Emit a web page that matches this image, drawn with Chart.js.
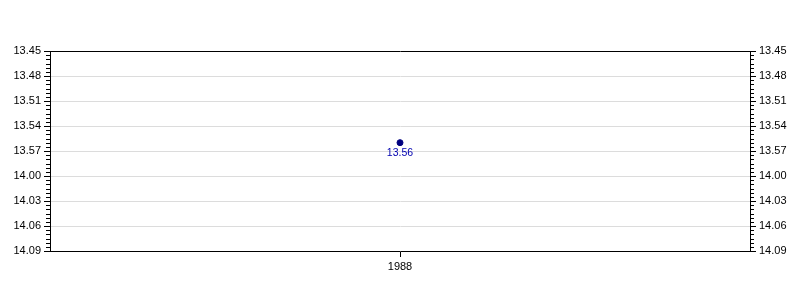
<!DOCTYPE html>
<html>
<head>
<meta charset="utf-8">
<script src="https://cdn.jsdelivr.net/npm/chart.js@4/dist/chart.umd.min.js"></script>
<style>
    html, body { margin: 0; padding: 0; background: #fff; }
    #wrap { width: 800px; height: 300px; }
</style>
</head>
<body>
<div id="wrap"><canvas id="timeChart"></canvas></div>
<script>
// Data (times as minutes.seconds)
const years = ['1988'];
const times = ['13.56'];
const yMinLabel = '13.45';
const yMaxLabel = '14.09';
const majorStep = 3;   // seconds between labelled ticks
const minorStep = 0.5; // seconds between small ticks

// "13.56" -> seconds
function toSeconds(t) {
    const parts = t.split('.');
    return parseInt(parts[0]) * 60 + parseInt(parts[1]);
}

// seconds -> "13.56"
function toLabel(v) {
    const m = Math.floor(v / 60);
    const s = Math.round(v - m * 60);
    return m + '.' + (s < 10 ? '0' + s : s);
}

const yMin = toSeconds(yMinLabel);
const yMax = toSeconds(yMaxLabel);

// Small ticks between the labelled ones
const minorTicks = {
    id: 'minorTicks',
    afterDraw(chart) {
        const c = chart.ctx;
        c.save();
        c.strokeStyle = '#000';
        c.lineWidth = 1;
        ['y', 'y2'].forEach(function (id) {
            const sc = chart.scales[id];
            for (let v = yMin; v <= yMax; v += minorStep) {
                if (v % majorStep === 0) continue;
                const py = Math.round(sc.getPixelForValue(v)) + 0.5;
                c.beginPath();
                if (id === 'y') {
                    c.moveTo(sc.right - 4, py);
                    c.lineTo(sc.right, py);
                } else {
                    c.moveTo(sc.left, py);
                    c.lineTo(sc.left + 4, py);
                }
                c.stroke();
            }
        });
        c.restore();
    }
};

// Value labels under the points
const pointLabels = {
    id: 'pointLabels',
    afterDatasetsDraw(chart) {
        const c = chart.ctx;
        const meta = chart.getDatasetMeta(0);
        c.save();
        c.fillStyle = '#0000b0';
        c.font = '10.5px "Liberation Sans", Arial, sans-serif';
        c.textAlign = 'center';
        c.textBaseline = 'top';
        meta.data.forEach(function (pt, i) {
            c.fillText(times[i], pt.x, pt.y + 5);
        });
        c.restore();
    }
};

function yAxis(position, onArea) {
    return {
        type: 'linear',
        position: position,
        min: yMin,
        max: yMax,
        reverse: true,
        afterFit: function (scale) { scale.width = 50; },
        ticks: {
            stepSize: majorStep,
            color: '#000',
            padding: 3,
            font: { size: 11, family: '"Liberation Sans", Arial, sans-serif' },
            callback: function (value) { return toLabel(value); }
        },
        grid: {
            drawOnChartArea: onArea,
            tickLength: 6,
            tickColor: '#000',
            color: function (ctx) {
                return ctx.tick && ctx.tick.value === yMin ? '#000' : '#dcdcdc';
            }
        },
        border: { color: '#000' }
    };
}

document.addEventListener('DOMContentLoaded', function () {
    const ctx = document.getElementById('timeChart');

    new Chart(ctx, {
        type: 'line',
        data: {
            labels: years,
            datasets: [{
                data: times.map(toSeconds),
                borderColor: '#000080',
                backgroundColor: '#000080',
                pointRadius: 3,
                pointBorderWidth: 1,
                showLine: false
            }]
        },
        options: {
            responsive: true,
            maintainAspectRatio: false,
            animation: false,
            layout: { padding: { top: 51, left: 0, right: 0, bottom: 0 } },
            plugins: {
                legend: { display: false },
                tooltip: { enabled: false }
            },
            scales: {
                x: {
                    offset: true,
                    afterFit: function (scale) { scale.height = 49; },
                    ticks: {
                        color: '#000',
                        padding: 3,
                        font: { size: 11, family: '"Liberation Sans", Arial, sans-serif' }
                    },
                    grid: {
                        drawOnChartArea: false,
                        tickLength: 6,
                        tickColor: '#000'
                    },
                    border: { color: '#000' }
                },
                y: yAxis('left', true),
                y2: yAxis('right', false)
            }
        },
        plugins: [minorTicks, pointLabels]
    });
});
</script>
</body>
</html>
